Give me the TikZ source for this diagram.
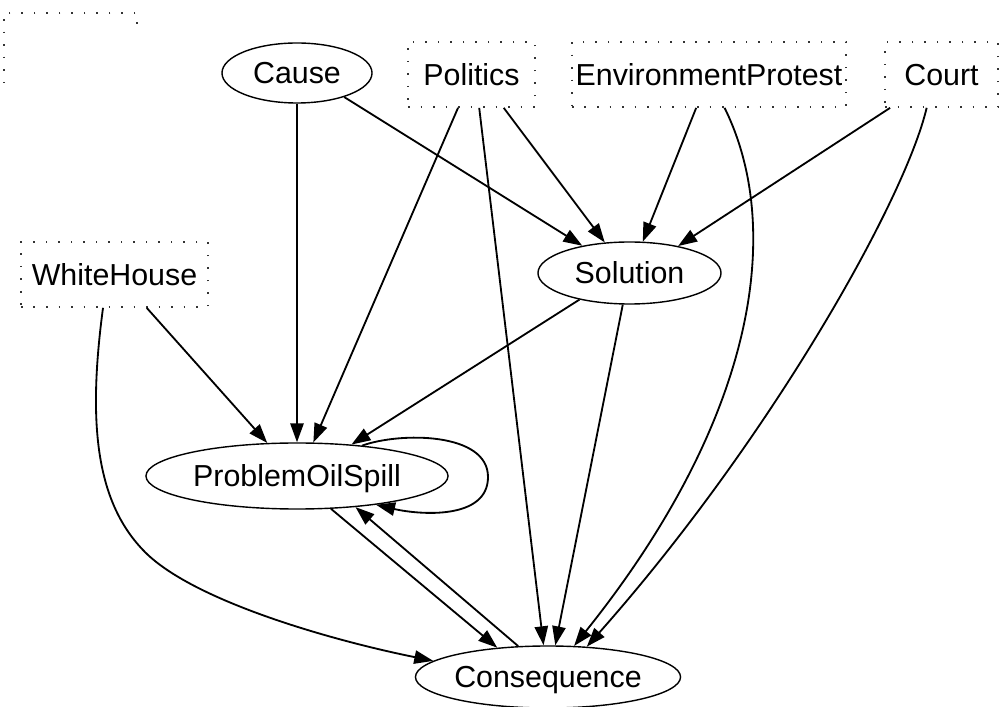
\documentclass[tikz,border=0pt]{standalone}
\usepackage{fontspec}
\setmainfont{Liberation Sans}
\usetikzlibrary{shapes.geometric,arrows.meta}
\begin{document}
\begin{tikzpicture}[x=0.025cm,y=-0.025cm,
  font=\fontsize{21.6}{26}\selectfont,
  every node/.style={text height=15.5pt,text depth=0pt},
  oval/.style={ellipse,draw,line width=1pt,inner sep=0pt},
  dotline/.style={draw=black!80,line width=1.2pt,dash pattern=on 1.1pt off 7.8pt},
  dotbox/.style={rectangle,dotline,inner sep=0pt,minimum height=1.625cm},
  edge/.style={line width=1.3pt,-{Triangle[length=13.5pt,width=9.5pt]}}]
\useasboundingbox (0,0) rectangle (1000,707);

% empty dotted frame in the corner
\draw[dotline] (137,24) -- (137,13) -- (4,13) -- (4,84);

% nodes
\node[oval,minimum width=3.75cm,minimum height=1.5cm] (cause) at (297,73) {Cause};
\node[dotbox,minimum width=3.175cm] (politics) at (471.5,74.5) {Politics};
\node[dotbox,minimum width=6.85cm] (env) at (709,74.5) {EnvironmentProtest};
\node[dotbox,minimum width=2.825cm] (court) at (941.5,74.5) {Court};
\node[dotbox,minimum width=4.675cm] (white) at (114.5,274.5) {WhiteHouse};
\node[oval,minimum width=4.575cm,minimum height=1.55cm] (solution) at (629.5,273) {Solution};
\node[oval,minimum width=7.55cm,minimum height=1.65cm] (problem) at (297,476) {ProblemOilSpill};
\node[oval,minimum width=6.6cm,minimum height=1.55cm] (conseq) at (548,677) {Consequence};

% edges
\draw[edge] (cause.south) -- (problem.north);
\draw[edge] (cause.-27.5) -- (solution.150.8);
\draw[edge] (politics.-112.6) -- (problem.64);
\draw[edge] (politics.-77) -- (conseq.98.9);
\draw[edge] (politics.-46.8) -- (solution.129.3);
\draw[edge] (env.-111.8) -- (solution.67.8);
\draw[edge] (env.-65.2) .. controls (785,230) and (755,420) .. (conseq.50.6);
\draw[edge] (court.-147.7) -- (solution.29.2);
\draw[edge] (court.-114) .. controls (905,200) and (770,440) .. (conseq.38.8);
\draw[edge] (white.-46.8) -- (problem.132.9);
\draw[edge] (white.-109) .. controls (88,420) and (95,500) .. (143,550)
                         .. controls (190,600) and (330,640) .. (conseq.172.5);
\draw[edge] (solution.-152.2) -- (problem.30.2);
\draw[edge] (solution.-102) -- (conseq.77.7);
\draw[edge] (problem.25.5) .. controls (400,432) and (488,432) .. (488,477)
                           .. controls (488,520) and (420,515) .. (problem.-20.6);
\draw[edge] (problem.-44.3) -- (conseq.150.7);
\draw[edge] (conseq.134.8) -- (problem.-28.6);
\end{tikzpicture}
\end{document}
